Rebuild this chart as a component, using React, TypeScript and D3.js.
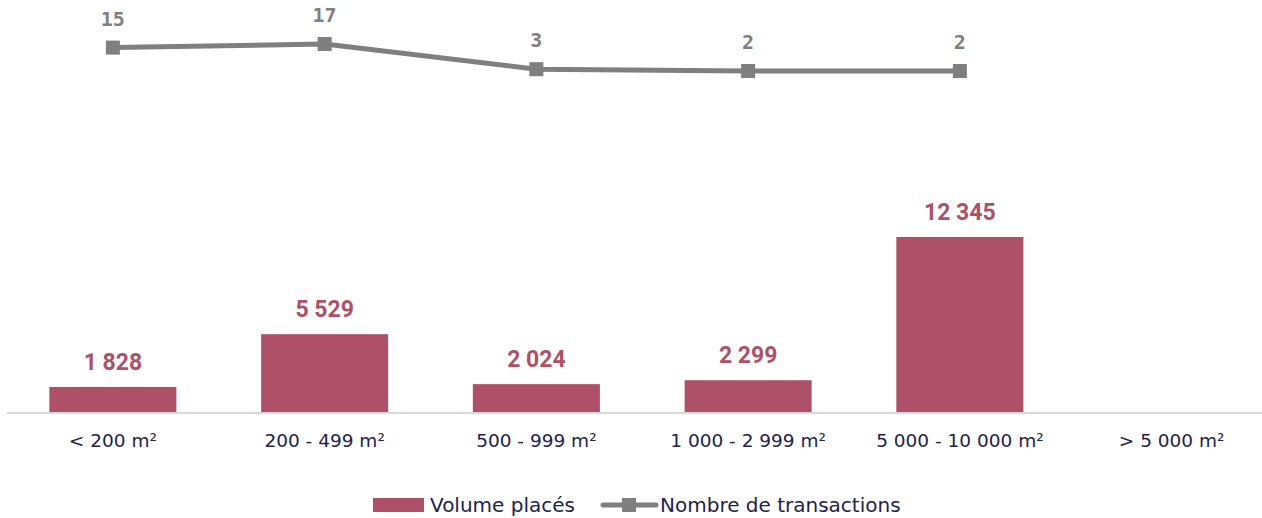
import React from "react";
import * as d3 from "d3";

const categories = ["< 200 m²", "200 - 499 m²", "500 - 999 m²", "1 000 - 2 999 m²", "5 000 - 10 000 m²", "> 5 000 m²"];
const volumes: (number | null)[] = [1828, 5529, 2024, 2299, 12345, null];
const transactions: (number | null)[] = [15, 17, 3, 2, 2, null];

const W = 1262;
const H = 518;
const BAR_COLOR = "#AE5069";
const LINE_COLOR = "#7F7F7F";
const TEXT_COLOR = "#22224A";
const AXIS_FONT = "'DejaVu Sans', sans-serif";

const fmt = (v: number) => d3.format(",")(v).replace(/,/g, " ");

export default function App() {
  const x = d3.scaleBand<string>().domain(categories).range([7, 1277.5]).paddingInner(0.4).paddingOuter(0.2);
  const axisY = 413;
  const y = d3.scaleLinear().domain([0, 14000]).range([axisY, axisY - 199.6]);
  const y2 = d3.scaleLinear().domain([0, 20]).range([74.6, 38.6]);

  const linePts = categories
    .map((c, i) => ({ c, v: transactions[i] }))
    .filter((d) => d.v != null) as { c: string; v: number }[];
  const line = d3
    .line<{ c: string; v: number }>()
    .x((d) => (x(d.c) as number) + x.bandwidth() / 2)
    .y((d) => y2(d.v));

  const ms = 14;

  return (
    <svg width={W} height={H} style={{ position: "absolute", left: 0, top: 0, background: "#fff" }}>
      {categories.map((c, i) =>
        volumes[i] != null ? (
          <g key={c}>
            <rect x={x(c)} y={y(volumes[i] as number)} width={x.bandwidth()} height={axisY - y(volumes[i] as number)} fill={BAR_COLOR} />
            <text
              x={(x(c) as number) + x.bandwidth() / 2}
              y={y(volumes[i] as number) - 17}
              textAnchor="middle"
              fill={BAR_COLOR}
              fontFamily="Roboto, sans-serif"
              fontWeight="bold"
              fontSize={23}
            >
              {fmt(volumes[i] as number)}
            </text>
          </g>
        ) : null
      )}
      <line x1={7} x2={W} y1={axisY} y2={axisY} stroke="#D9D9D9" strokeWidth={2} />
      {categories.map((c) => (
        <text
          key={c}
          x={(x(c) as number) + x.bandwidth() / 2}
          y={447}
          textAnchor="middle"
          fill={TEXT_COLOR}
          fontFamily={AXIS_FONT}
          fontSize={18.5}
        >
          {c}
        </text>
      ))}
      <path d={line(linePts) as string} fill="none" stroke={LINE_COLOR} strokeWidth={5} />
      {linePts.map((d) => {
        const cx = (x(d.c) as number) + x.bandwidth() / 2;
        const cy = y2(d.v);
        return (
          <g key={d.c}>
            <rect x={cx - ms / 2} y={cy - ms / 2} width={ms} height={ms} fill={LINE_COLOR} />
            <text x={cx} y={cy - 22} textAnchor="middle" fill={LINE_COLOR} fontFamily="'DejaVu Sans Mono', monospace" fontWeight="bold" fontSize={20}>
              {d.v}
            </text>
          </g>
        );
      })}
      {/* Legend */}
      <g>
        <rect x={373} y={498} width={51} height={14} fill={BAR_COLOR} />
        <text x={430} y={512} fill={TEXT_COLOR} fontFamily={AXIS_FONT} fontSize={20}>
          Volume placés
        </text>
        <line x1={603} x2={656} y1={505} y2={505} stroke={LINE_COLOR} strokeWidth={5} strokeLinecap="round" />
        <rect x={622} y={498} width={14} height={14} fill={LINE_COLOR} />
        <text x={660} y={512} fill={TEXT_COLOR} fontFamily={AXIS_FONT} fontSize={20}>
          Nombre de transactions
        </text>
      </g>
    </svg>
  );
}
